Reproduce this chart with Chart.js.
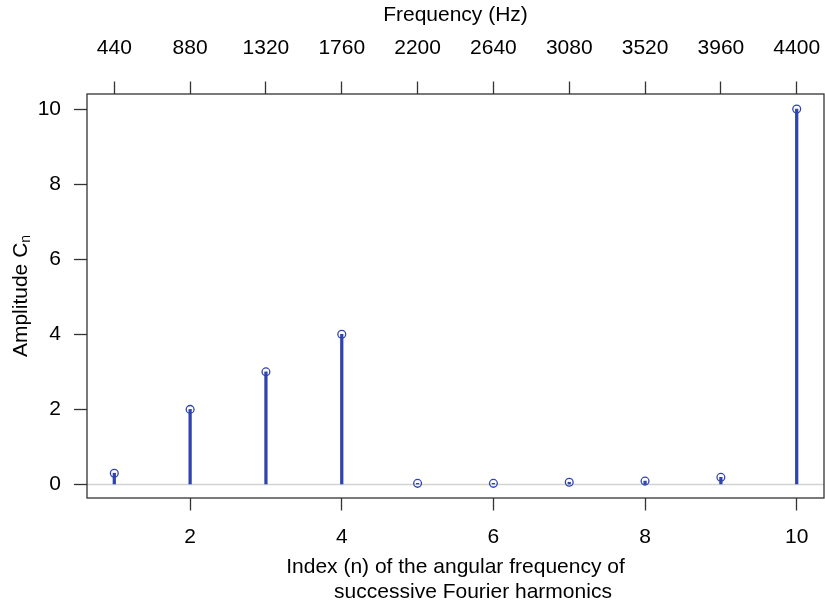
<!DOCTYPE html>
<html>
<head>
<meta charset="utf-8">
<script src="https://cdn.jsdelivr.net/npm/chart.js@4/dist/chart.umd.min.js"></script>
<style>
  html, body { margin: 0; padding: 0; background: #ffffff; }
  #wrap { width: 825px; height: 605px; position: relative; }
</style>
</head>
<body>
<div id="wrap"><canvas id="c"></canvas></div>
<script>
// Harmonic index n and the amplitude C_n of each Fourier harmonic
const harmonicIndex = [1, 2, 3, 4, 5, 6, 7, 8, 9, 10];
const amplitude = [0.30, 2, 3, 4, 0.03, 0.03, 0.06, 0.09, 0.19, 10];

// Tick values / labels
const bottomTicks = [2, 4, 6, 8, 10];
const leftTicks = [0, 2, 4, 6, 8, 10];
const frequencyLabels = ['440', '880', '1320', '1760', '2200', '2640', '3080', '3520', '3960', '4400'];

const FONT = '"Liberation Sans", Arial, Helvetica, sans-serif';
const FS = 21;
const STEM = '#2f44ad';
const AXIS = '#333333';

const points = harmonicIndex.map((n, i) => ({ x: n, y: amplitude[i] }));

// Light grey reference line at zero, plus the full box around the plot
const framePlugin = {
  id: 'frame',
  beforeDatasetsDraw(chart) {
    const { ctx, chartArea: a, scales } = chart;
    const y0 = scales.y.getPixelForValue(0);
    ctx.save();
    ctx.strokeStyle = '#d3d3d3';
    ctx.lineWidth = 1.5;
    ctx.beginPath();
    ctx.moveTo(a.left, y0);
    ctx.lineTo(a.right, y0);
    ctx.stroke();
    ctx.restore();
  },
  afterDraw(chart) {
    const { ctx, chartArea: a } = chart;
    ctx.save();
    ctx.strokeStyle = AXIS;
    ctx.lineWidth = 1.3;
    ctx.strokeRect(a.left, a.top, a.right - a.left, a.bottom - a.top);

    // y-axis title with subscript n
    const main = 'Amplitude C';
    const sub = 'n';
    ctx.fillStyle = '#000000';
    ctx.font = FS + 'px ' + FONT;
    const w1 = ctx.measureText(main).width;
    ctx.font = '14px ' + FONT;
    const w2 = ctx.measureText(sub).width;
    const cy = (a.top + a.bottom) / 2;
    ctx.translate(27, cy);
    ctx.rotate(-Math.PI / 2);
    ctx.textBaseline = 'alphabetic';
    ctx.textAlign = 'left';
    const start = -(w1 + w2) / 2;
    ctx.font = FS + 'px ' + FONT;
    ctx.fillText(main, start, 0);
    ctx.font = '14px ' + FONT;
    ctx.fillText(sub, start + w1, 3);
    ctx.restore();
  }
};

const tickFont = { family: FONT, size: FS };

// fixed box sizes for the axes, no extra edge padding for end labels
const fixHeight = h => scale => {
  scale.height = h;
  scale.paddingLeft = 0;
  scale.paddingRight = 0;
};

new Chart(document.getElementById('c'), {
  type: 'scatter',
  data: {
    datasets: [
      {
        type: 'scatter',
        data: points,
        order: 0,
        xAxisID: 'x',
        yAxisID: 'y',
        pointStyle: 'circle',
        pointRadius: 3.9,
        pointBorderWidth: 1.3,
        pointBackgroundColor: 'rgba(0,0,0,0)',
        pointBorderColor: STEM,
        showLine: false
      },
      {
        type: 'bar',
        data: points,
        order: 1,
        xAxisID: 'x',
        yAxisID: 'y',
        backgroundColor: STEM,
        borderWidth: 0,
        barThickness: 2.6
      }
    ]
  },
  options: {
    responsive: true,
    maintainAspectRatio: false,
    animation: false,
    events: [],
    layout: { autoPadding: false, padding: { left: 0, right: 1, top: 0, bottom: 0 } },
    plugins: {
      legend: { display: false },
      tooltip: { enabled: false },
      title: { display: false }
    },
    scales: {
      x: {
        type: 'linear',
        position: 'bottom',
        offset: false,
        min: 0.64,
        max: 10.36,
        afterBuildTicks(scale) { scale.ticks = bottomTicks.map(v => ({ value: v })); },
        afterFit: fixHeight(107),
        ticks: {
          autoSkip: false,
          maxRotation: 0,
          padding: 14.5,
          color: '#000000',
          font: tickFont,
          callback: v => String(v)
        },
        grid: {
          offset: false,
          drawOnChartArea: false,
          drawTicks: true,
          tickLength: 12.5,
          tickColor: AXIS,
          tickWidth: 1.3
        },
        border: { display: false },
        title: {
          display: true,
          text: ['Index (n) of the angular frequency of', '      successive Fourier harmonics'],
          color: '#000000',
          font: { family: FONT, size: FS, lineHeight: 1.2 },
          padding: { top: 0, bottom: 0 }
        }
      },
      xTop: {
        type: 'linear',
        position: 'top',
        offset: false,
        min: 0.64,
        max: 10.36,
        afterBuildTicks(scale) { scale.ticks = harmonicIndex.map(v => ({ value: v })); },
        afterFit: fixHeight(94),
        ticks: {
          autoSkip: false,
          maxRotation: 0,
          padding: 20.5,
          color: '#000000',
          font: tickFont,
          callback: v => frequencyLabels[harmonicIndex.indexOf(v)]
        },
        grid: {
          offset: false,
          drawOnChartArea: false,
          drawTicks: true,
          tickLength: 12.5,
          tickColor: AXIS,
          tickWidth: 1.3
        },
        border: { display: false },
        title: {
          display: true,
          text: 'Frequency (Hz)',
          color: '#000000',
          font: { family: FONT, size: FS, lineHeight: 1.2 },
          padding: { top: 3, bottom: 0 }
        }
      },
      y: {
        type: 'linear',
        position: 'left',
        min: -0.36,
        max: 10.4,
        afterBuildTicks(scale) { scale.ticks = leftTicks.map(v => ({ value: v })); },
        afterFit(scale) {
          scale.width = 87;
          scale.paddingTop = 0;
          scale.paddingBottom = 0;
        },
        ticks: {
          autoSkip: false,
          padding: 13,
          color: '#000000',
          font: tickFont,
          callback: v => String(v)
        },
        grid: {
          drawOnChartArea: false,
          drawTicks: true,
          tickLength: 13,
          tickColor: AXIS,
          tickWidth: 1.3
        },
        border: { display: false },
        title: { display: false }
      }
    }
  },
  plugins: [framePlugin]
});
</script>
</body>
</html>
